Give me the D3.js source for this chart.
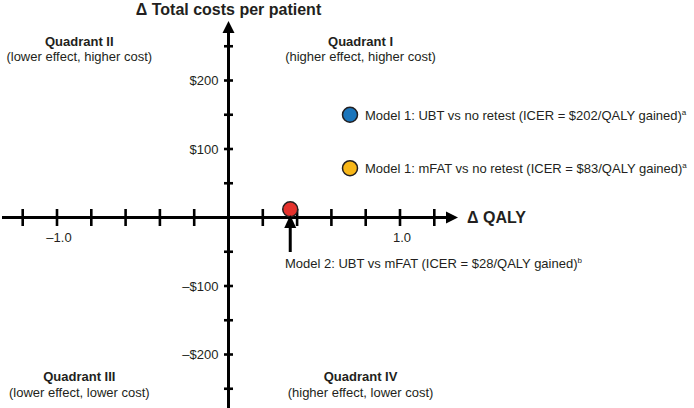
<!DOCTYPE html>
<html><head><meta charset="utf-8">
<script src="https://cdn.jsdelivr.net/npm/d3@7"></script>
<style>
html,body{margin:0;padding:0;background:#fff;}
svg text{font-family:"Liberation Sans",Arial,sans-serif;fill:#231f20;}
</style></head>
<body>
<svg id="chart" width="694" height="408"></svg>
<script>
// ---- data ----
const xTickValues = [-1.2,-1.0,-0.8,-0.6,-0.4,-0.2,0.2,0.4,0.6,0.8,1.0,1.2];
const xTickLabels = [{v:-1.0,t:"\u20131.0"},{v:1.0,t:"1.0"}];
const yTickValues = [-250,-200,-150,-100,-50,50,100,150,200,250];
const yTickLabels = [{v:200,t:"$200"},{v:100,t:"$100"},{v:-100,t:"\u2013$100"},{v:-200,t:"\u2013$200"}];
const pointNames = ["Model 2: UBT vs mFAT"];
const pointQaly = [0.36];
const pointCost = [12];
const pointColors = ["#e5322d"];
const legendLabels = ["Model 1: UBT vs no retest (ICER = $202/QALY gained)","Model 1: mFAT vs no retest (ICER = $83/QALY gained)"];
const legendCost = [150,  72];
const legendColors = ["#1b75bb","#f8b719"];
const quadrants = [
  {title:"Quadrant II", sub:"(lower effect, higher cost)", q:-0.87, c:1},
  {title:"Quadrant I", sub:"(higher effect, higher cost)", q:0.77, c:1},
  {title:"Quadrant III", sub:"(lower effect, lower cost)", q:-0.87, c:-1},
  {title:"Quadrant IV", sub:"(higher effect, lower cost)", q:0.77, c:-1}
];

const svg = d3.select("#chart");
const x = d3.scaleLinear().domain([-1,1]).range([57,400]);
const y = d3.scaleLinear().domain([-200,200]).range([354.5,80.5]);
const x0 = x(0), y0 = y(0);

// axes lines
svg.append("line").attr("x1",2).attr("x2",448).attr("y1",y0).attr("y2",y0)
  .attr("stroke","#000").attr("stroke-width",3);
svg.append("path").attr("d",`M458,${y0} L446,${y0-6} L446,${y0+6} Z`).attr("fill","#000");
svg.append("line").attr("x1",x0).attr("x2",x0).attr("y1",410).attr("y2",32)
  .attr("stroke","#000").attr("stroke-width",3);
svg.append("path").attr("d",`M${x0},21 L${x0-6},33 L${x0+6},33 Z`).attr("fill","#000");

// ticks
svg.selectAll(".xt").data(xTickValues).enter().append("line")
  .attr("x1",d=>x(d)).attr("x2",d=>x(d)).attr("y1",y0-8.5).attr("y2",y0+8.5)
  .attr("stroke","#000").attr("stroke-width",2.6);
svg.selectAll(".yt").data(yTickValues).enter().append("line")
  .attr("x1",x0-4.5).attr("x2",x0+4.5).attr("y1",d=>y(d)).attr("y2",d=>y(d))
  .attr("stroke","#000").attr("stroke-width",2.6);

// tick labels
svg.selectAll(".xl").data(xTickLabels).enter().append("text")
  .attr("x",d=>x(d.v)+2).attr("y",y0+24).attr("text-anchor","middle")
  .attr("font-size",13).text(d=>d.t);
svg.selectAll(".yl").data(yTickLabels).enter().append("text")
  .attr("x",x0-10).attr("y",d=>y(d.v)+4.5).attr("text-anchor","end")
  .attr("font-size",13).text(d=>d.t);

// axis titles
svg.append("text").attr("x",x0).attr("y",15).attr("text-anchor","middle")
  .attr("font-size",16).attr("font-weight","bold").text("\u0394 Total costs per patient");
svg.append("text").attr("x",467).attr("y",y0+5.5)
  .attr("font-size",16).attr("font-weight","bold").text("\u0394 QALY");

// quadrant labels
const qg = svg.selectAll(".q").data(quadrants).enter().append("g");
qg.append("text").attr("x",d=>x(d.q)).attr("y",d=>d.c>0?46:381).attr("text-anchor","middle")
  .attr("font-size",13).attr("font-weight","bold").text(d=>d.title);
qg.append("text").attr("x",d=>x(d.q)).attr("y",d=>d.c>0?61:397).attr("text-anchor","middle")
  .attr("font-size",13).text(d=>d.sub);

// legend
const lg = svg.selectAll(".lg").data(legendLabels).enter().append("g");
lg.append("circle").attr("cx",350).attr("cy",(d,i)=>y(legendCost[i])).attr("r",7.5)
  .attr("fill",(d,i)=>legendColors[i]).attr("stroke","#231f20").attr("stroke-width",1.5);
const lt = lg.append("text").attr("x",365).attr("y",(d,i)=>y(legendCost[i])+5).attr("font-size",13);
lt.append("tspan").text(d=>d);
lt.append("tspan").attr("font-size",8).attr("dy",-5).text("a");

// points
svg.selectAll(".pt").data(pointNames).enter().append("circle")
  .attr("cx",(d,i)=>x(pointQaly[i])).attr("cy",(d,i)=>y(pointCost[i])).attr("r",7.5)
  .attr("fill",(d,i)=>pointColors[i]).attr("stroke","#231f20").attr("stroke-width",1.5);

// annotation arrow
const ax = x(pointQaly[0]);
svg.append("line").attr("x1",ax).attr("x2",ax).attr("y1",252).attr("y2",226)
  .attr("stroke","#000").attr("stroke-width",3);
svg.append("path").attr("d",`M${ax},215 L${ax-6},228 L${ax+6},228 Z`).attr("fill","#000");
const at = svg.append("text").attr("x",285).attr("y",268).attr("font-size",13);
at.append("tspan").text("Model 2: UBT vs mFAT (ICER = $28/QALY gained)");
at.append("tspan").attr("font-size",8).attr("dy",-5).text("b");
</script>
</body></html>
